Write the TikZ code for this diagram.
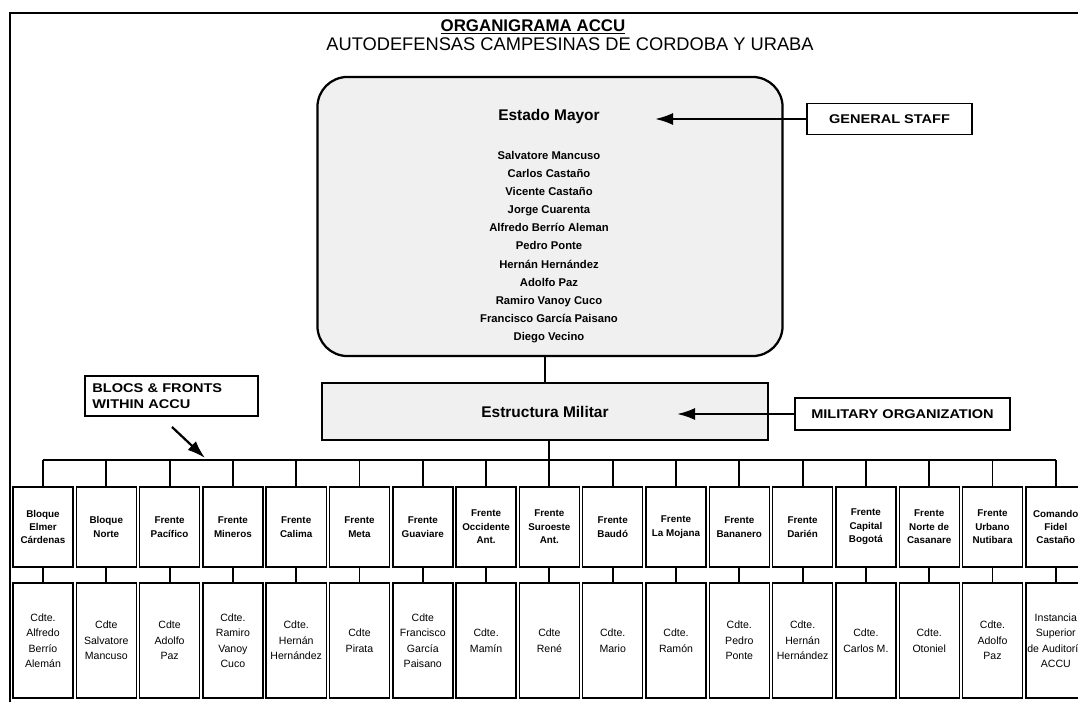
\documentclass[tikz,border=0pt]{standalone}
\usepackage{fontspec}
\setmainfont{Liberation Sans}
\newfontfamily\tagfont{Liberation Sans}[FakeStretch=1.15]
\usetikzlibrary{arrows.meta}

\begin{document}
\begin{tikzpicture}[x=0.025cm, y=-0.025cm,
    frontbox/.style={shape=rectangle, draw, line width=1pt, fill=white, minimum width=1.5cm, minimum height=2cm, inner sep=1pt, align=center, font=\bfseries\fontsize{7}{9.5}\selectfont},
    cdtebox/.style={frontbox, minimum height=2.875cm, font=\fontsize{7.5}{11}\selectfont},
    tagbox/.style={shape=rectangle, draw, line width=1.2pt, inner sep=0pt, font=\tagfont\bfseries\fontsize{9}{11}\selectfont},
    pointer/.style={-{Latex[length=4.5mm,width=3mm]}, line width=1.6pt},
    link/.style={line width=1.4pt}]

      \useasboundingbox (0,0) rectangle (1078,702);

      % marco
      \draw[line width=1.8pt] (10,702) -- (10,13) -- (1078,13);

      % titulo
      \node[font=\bfseries\fontsize{12}{14}\selectfont] (titulo) at (533,27) {\underline{ORGANIGRAMA ACCU}};
      \node[font=\fontsize{13}{15}\selectfont] (subtitulo) at (570,44) {AUTODEFENSAS CAMPESINAS DE CORDOBA Y URABA};

      % estado mayor
      \node[shape=rectangle, rounded corners=0.75cm, draw, line width=1.6pt, fill=black!6, minimum width=11.625cm, minimum height=6.975cm] (estado) at (550,216.5) {};
      \node[font=\bfseries\fontsize{11}{13}\selectfont] (estadotit) at (549,117) {Estado Mayor};
      \node[align=center, font=\bfseries\fontsize{8}{12.9}\selectfont] (miembros) at (549,247) {Salvatore Mancuso\\Carlos Castaño\\Vicente Castaño\\Jorge Cuarenta\\Alfredo Berrío Aleman\\Pedro Ponte\\Hernán Hernández\\Adolfo Paz\\Ramiro Vanoy Cuco\\Francisco García Paisano\\Diego Vecino};

      % estructura militar
      \node[shape=rectangle, draw, line width=1.6pt, fill=black!6, minimum width=11.15cm, minimum height=1.425cm, font=\bfseries\fontsize{11}{13}\selectfont] (militar) at (545,411.5) {Estructura Militar};

      % etiquetas
      \node[tagbox, minimum width=4.125cm, minimum height=0.775cm] (staff) at (889.5,119) {GENERAL STAFF};
      \node[tagbox, minimum width=5.375cm, minimum height=0.8cm] (militaryorg) at (902.5,414) {MILITARY ORGANIZATION};
      \node[tagbox, minimum width=4.325cm, minimum height=1cm, align=left, text width=3.95cm] (blocs) at (171.5,396) {BLOCS \& FRONTS\\WITHIN ACCU};

      \coordinate (stafftip) at (655,119);
      \coordinate (militarytip) at (677,414);
      \coordinate (blocstail) at (172,427);
      \coordinate (blocstip) at (205,458);

      \draw[pointer] (staff.west) -- (stafftip);
      \draw[pointer] (militaryorg.west) -- (militarytip);
      \draw[pointer] (blocstail) -- (blocstip);

      % bloques y frentes
      \node[frontbox] (f1) at (43,527) {Bloque\\Elmer\\Cárdenas};
      \node[frontbox] (f2) at (106.3,527) {Bloque\\Norte};
      \node[frontbox] (f3) at (169.6,527) {Frente\\Pacífico};
      \node[frontbox] (f4) at (232.9,527) {Frente\\Mineros};
      \node[frontbox] (f5) at (296.2,527) {Frente\\Calima};
      \node[frontbox] (f6) at (359.5,527) {Frente\\Meta};
      \node[frontbox] (f7) at (422.8,527) {Frente\\Guaviare};
      \node[frontbox] (f8) at (486.1,527) {Frente\\Occidente\\Ant.};
      \node[frontbox] (f9) at (549.4,527) {Frente\\Suroeste\\Ant.};
      \node[frontbox] (f10) at (612.7,527) {Frente\\Baudó};
      \node[frontbox] (f11) at (676,527) {Frente\\La Mojana};
      \node[frontbox] (f12) at (739.3,527) {Frente\\Bananero};
      \node[frontbox] (f13) at (802.6,527) {Frente\\Darién};
      \node[frontbox] (f14) at (865.9,527) {Frente\\Capital\\Bogotá};
      \node[frontbox] (f15) at (929.2,527) {Frente\\Norte de\\Casanare};
      \node[frontbox] (f16) at (992.5,527) {Frente\\Urbano\\Nutibara};
      \node[frontbox] (f17) at (1055.8,527) {Comando\\Fidel\\Castaño};

      % comandantes
      \node[cdtebox] (c1) at (43,640.5) {Cdte.\\Alfredo\\Berrío\\Alemán};
      \node[cdtebox] (c2) at (106.3,640.5) {Cdte\\Salvatore\\Mancuso};
      \node[cdtebox] (c3) at (169.6,640.5) {Cdte\\Adolfo\\Paz};
      \node[cdtebox] (c4) at (232.9,640.5) {Cdte.\\Ramiro\\Vanoy\\Cuco};
      \node[cdtebox] (c5) at (296.2,640.5) {Cdte.\\Hernán\\Hernández};
      \node[cdtebox] (c6) at (359.5,640.5) {Cdte\\Pirata};
      \node[cdtebox] (c7) at (422.8,640.5) {Cdte\\Francisco\\García\\Paisano};
      \node[cdtebox] (c8) at (486.1,640.5) {Cdte.\\Mamín};
      \node[cdtebox] (c9) at (549.4,640.5) {Cdte\\René};
      \node[cdtebox] (c10) at (612.7,640.5) {Cdte.\\Mario};
      \node[cdtebox] (c11) at (676,640.5) {Cdte.\\Ramón};
      \node[cdtebox] (c12) at (739.3,640.5) {Cdte.\\Pedro\\Ponte};
      \node[cdtebox] (c13) at (802.6,640.5) {Cdte.\\Hernán\\Hernández};
      \node[cdtebox] (c14) at (865.9,640.5) {Cdte.\\Carlos M.};
      \node[cdtebox] (c15) at (929.2,640.5) {Cdte.\\Otoniel};
      \node[cdtebox] (c16) at (992.5,640.5) {Cdte.\\Adolfo\\Paz};
      \node[cdtebox] (c17) at (1055.8,640.5) {Instancia\\Superior\\de Auditoría\\ACCU};

      % lineas
      \coordinate (bus) at (549.4,460);

      \path [link] (estado.south -| militar.north) edge (militar.north);
      \path [link] (militar.south -| bus) edge (bus);
      \path [link] (f1.north |- bus) edge (f17.north |- bus);

      \path [link] (f1.north |- bus) edge (f1.north);
      \path [link] (f2.north |- bus) edge (f2.north);
      \path [link] (f3.north |- bus) edge (f3.north);
      \path [link] (f4.north |- bus) edge (f4.north);
      \path [link] (f5.north |- bus) edge (f5.north);
      \path [link] (f6.north |- bus) edge (f6.north);
      \path [link] (f7.north |- bus) edge (f7.north);
      \path [link] (f8.north |- bus) edge (f8.north);
      \path [link] (f9.north |- bus) edge (f9.north);
      \path [link] (f10.north |- bus) edge (f10.north);
      \path [link] (f11.north |- bus) edge (f11.north);
      \path [link] (f12.north |- bus) edge (f12.north);
      \path [link] (f13.north |- bus) edge (f13.north);
      \path [link] (f14.north |- bus) edge (f14.north);
      \path [link] (f15.north |- bus) edge (f15.north);
      \path [link] (f16.north |- bus) edge (f16.north);
      \path [link] (f17.north |- bus) edge (f17.north);

      \path [link] (f1) edge (c1);
      \path [link] (f2) edge (c2);
      \path [link] (f3) edge (c3);
      \path [link] (f4) edge (c4);
      \path [link] (f5) edge (c5);
      \path [link] (f6) edge (c6);
      \path [link] (f7) edge (c7);
      \path [link] (f8) edge (c8);
      \path [link] (f9) edge (c9);
      \path [link] (f10) edge (c10);
      \path [link] (f11) edge (c11);
      \path [link] (f12) edge (c12);
      \path [link] (f13) edge (c13);
      \path [link] (f14) edge (c14);
      \path [link] (f15) edge (c15);
      \path [link] (f16) edge (c16);
      \path [link] (f17) edge (c17);
    \end{tikzpicture}
\end{document}
